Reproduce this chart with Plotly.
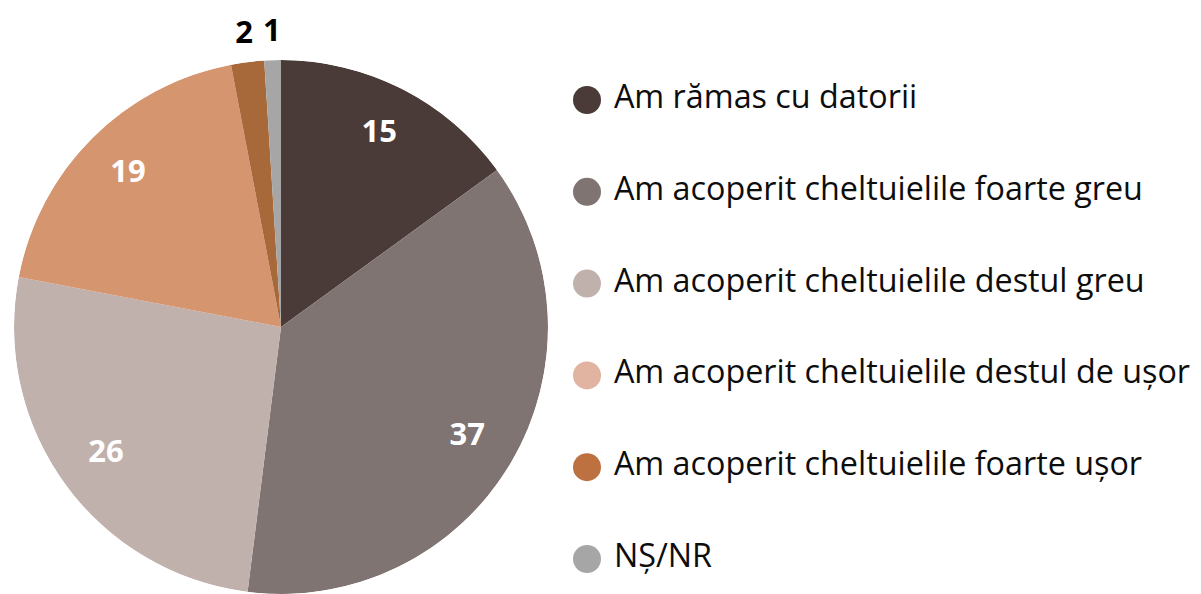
import math
import plotly.graph_objects as go

categories = [
    "Am rămas cu datorii",
    "Am acoperit cheltuielile foarte greu",
    "Am acoperit cheltuielile destul greu",
    "Am acoperit cheltuielile destul de ușor",
    "Am acoperit cheltuielile foarte ușor",
    "NȘ/NR",
]
values = [15, 37, 26, 19, 2, 1]
slice_colors = ["#4a3b39", "#7f7472", "#c1b1ad", "#d5956f", "#a8693a", "#a6a6a6"]
legend_colors = ["#4a3b39", "#7f7472", "#c1b1ad", "#e1b4a1", "#bd7040", "#a6a6a6"]
label_outside = [False, False, False, False, True, True]

W, H = 1201, 594
cx, cy, r = 281, 327, 267          # pie centre / radius in pixels
INSIDE_R, OUTSIDE_R = 0.81, 1.10   # label distance, in pie radii
LEG_X = 587                        # legend marker centre x

pie_domain = dict(x=[(cx - r) / W, (cx + r) / W], y=[(H - cy - r) / H, (H - cy + r) / H])

total = sum(values)
mid_theta, widths = [], []
acc = 0
for v in values:
    mid_theta.append((acc + v / 2) / total * 360)
    widths.append(v / total * 360)
    acc += v

fig = go.Figure()

# pie wedges as polar bars
fig.add_trace(go.Barpolar(
    theta=mid_theta,
    r=[1] * len(values),
    width=widths,
    marker=dict(color=slice_colors, line=dict(width=0)),
    customdata=categories,
    text=[str(v) for v in values],
    hovertemplate="%{customdata}: %{text}<extra></extra>",
    showlegend=False,
    subplot="polar",
))

# inside value labels
ins = [i for i, o in enumerate(label_outside) if not o]
fig.add_trace(go.Scatterpolar(
    theta=[mid_theta[i] for i in ins],
    r=[INSIDE_R] * len(ins),
    mode="text",
    text=[str(values[i]) for i in ins],
    textposition="middle center",
    textfont=dict(family="Open Sans", size=31, color="white", weight="bold"),
    showlegend=False,
    hoverinfo="skip",
    subplot="polar",
))

# outside value labels, on a cartesian overlay measured in pie radii
outs = [i for i, o in enumerate(label_outside) if o]
fig.add_trace(go.Scatter(
    x=[OUTSIDE_R * math.sin(math.radians(mid_theta[i])) for i in outs],
    y=[OUTSIDE_R * math.cos(math.radians(mid_theta[i])) for i in outs],
    mode="text",
    text=[str(values[i]) for i in outs],
    textposition="middle center",
    textfont=dict(family="Open Sans", size=31, color="black", weight="bold"),
    cliponaxis=False,
    showlegend=False,
    hoverinfo="skip",
    xaxis="x2", yaxis="y2",
))

# legend drawn as a marker+text scatter on its own categorical axis
first_y, step = 100, 91.8
fig.add_trace(go.Scatter(
    x=[0] * len(categories),
    y=categories,
    mode="markers+text",
    text=["\u00a0" + c for c in categories],
    textposition="middle right",
    textfont=dict(family="Open Sans", size=32.3, color="#0d0d0d"),
    marker=dict(size=28, color=legend_colors, line=dict(width=0)),
    cliponaxis=False,
    showlegend=False,
    hoverinfo="skip",
    xaxis="x", yaxis="y",
))

x2_right_px = LEG_X - 40
fig.update_layout(
    width=W, height=H,
    margin=dict(l=0, r=0, t=0, b=0),
    paper_bgcolor="white",
    plot_bgcolor="rgba(0,0,0,0)",
    polar=dict(
        domain=pie_domain,
        bgcolor="rgba(0,0,0,0)",
        hole=0,
        bargap=0,
        radialaxis=dict(range=[0, 1], visible=False),
        angularaxis=dict(direction="clockwise", rotation=90, visible=False),
    ),
    xaxis=dict(domain=[LEG_X / W, 1], range=[0, 1], visible=False, fixedrange=True),
    yaxis=dict(
        type="category",
        categoryarray=categories,
        range=[len(categories) - 1 + (H - first_y - step * (len(categories) - 1)) / step, -first_y / step],
        visible=False, fixedrange=True,
    ),
    xaxis2=dict(domain=[0, x2_right_px / W], range=[-cx / r, (x2_right_px - cx) / r],
                visible=False, fixedrange=True),
    yaxis2=dict(domain=[0, 1], range=[-(H - cy) / r, cy / r], visible=False, fixedrange=True),
)

fig.write_html(
    "out.html",
    config={"displayModeBar": False},
    post_script="document.body.style.margin='0px';document.body.style.overflow='hidden';",
)
